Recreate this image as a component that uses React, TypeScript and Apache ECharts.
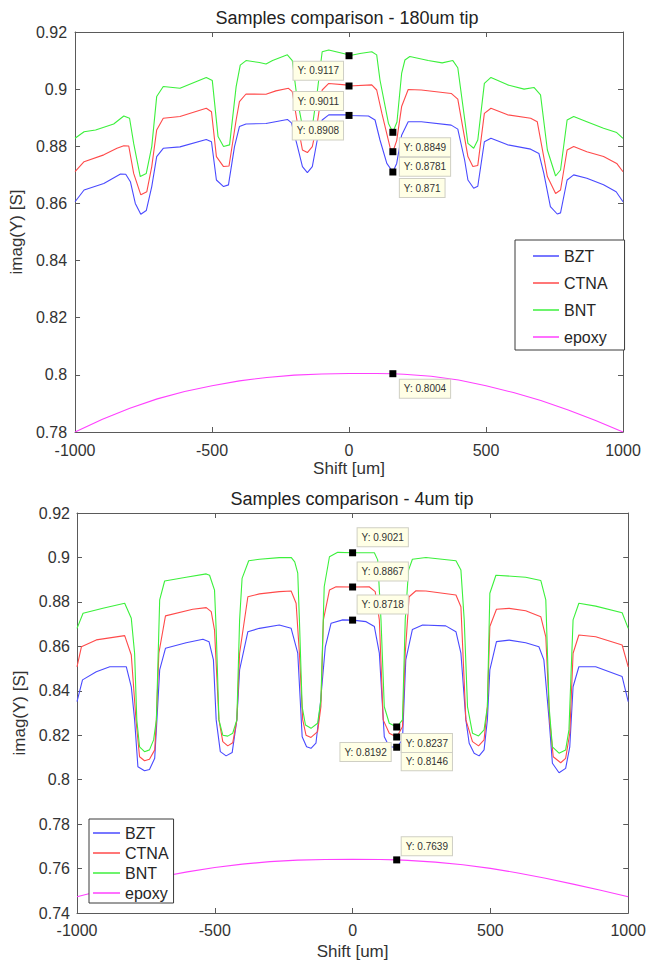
import React, { useEffect, useRef } from 'react';
import * as echarts from 'echarts';

// ---------- data ----------
const seriesNames = ['BZT', 'CTNA', 'BNT', 'epoxy'];
const xTicks = [-1000, -500, 0, 500, 1000];

// Top chart: 180um tip
const topBZT = [[-1000,0.8606],[-967,0.8647],[-895,0.867],[-834,0.8703],[-815,0.8702],[-798,0.8676],[-780,0.86],[-760,0.8562],[-740,0.8575],[-720,0.8659],[-702,0.8764],[-678,0.8793],[-617,0.8798],[-521,0.8824],[-502,0.8816],[-484,0.8682],[-458,0.8659],[-440,0.8665],[-418,0.8799],[-400,0.8869],[-376,0.8878],[-303,0.888],[-225,0.8894],[-210,0.8882],[-188,0.8799],[-170,0.8729],[-152,0.8708],[-134,0.8729],[-116,0.8822],[-98,0.8892],[-74,0.891],[-7,0.891],[0,0.8908],[71,0.8906],[95,0.8892],[113,0.8822],[138,0.874],[160,0.871],[174,0.874],[192,0.8839],[216,0.8886],[264,0.8886],[373,0.8874],[397,0.886],[422,0.8752],[434,0.8682],[455,0.8653],[470,0.866],[494,0.8816],[518,0.8828],[579,0.8805],[663,0.879],[693,0.8775],[711,0.8705],[735,0.8589],[760,0.8563],[772,0.8567],[796,0.8682],[820,0.87],[868,0.8688],[929,0.8665],[975,0.8641],[1000,0.8606]];
const topCTNA = [[-1000,0.8711],[-967,0.8746],[-895,0.877],[-847,0.8793],[-822,0.8802],[-804,0.8801],[-786,0.8705],[-760,0.863],[-738,0.8641],[-720,0.8729],[-702,0.8857],[-678,0.8898],[-617,0.8904],[-521,0.8933],[-502,0.8921],[-484,0.8764],[-458,0.8729],[-438,0.8731],[-412,0.8892],[-400,0.8956],[-376,0.8983],[-303,0.8982],[-267,0.8994],[-221,0.9003],[-207,0.8991],[-190,0.889],[-170,0.8787],[-152,0.8778],[-134,0.8799],[-116,0.888],[-98,0.8997],[-74,0.902],[-13,0.9015],[0,0.9011],[83,0.9015],[101,0.8997],[120,0.8915],[150,0.8795],[160,0.8781],[174,0.882],[192,0.8939],[216,0.8999],[264,0.8997],[373,0.8985],[397,0.8965],[434,0.8764],[452,0.8729],[470,0.8733],[494,0.8915],[518,0.8933],[579,0.891],[663,0.8898],[687,0.8886],[724,0.8694],[754,0.8635],[772,0.8647],[796,0.8787],[820,0.8799],[868,0.8781],[929,0.8764],[977,0.874],[1000,0.8711]];
const topBNT = [[-1000,0.8828],[-967,0.8851],[-925,0.8857],[-859,0.8878],[-822,0.8906],[-801,0.8898],[-786,0.881],[-762,0.8694],[-740,0.8705],[-720,0.8799],[-702,0.8974],[-678,0.9009],[-617,0.9003],[-521,0.9041],[-499,0.903],[-478,0.8834],[-458,0.8799],[-436,0.8805],[-412,0.9009],[-397,0.9084],[-376,0.91],[-327,0.9093],[-303,0.9088],[-279,0.91],[-225,0.912],[-207,0.91],[-190,0.897],[-170,0.887],[-152,0.8848],[-134,0.8868],[-116,0.899],[-98,0.9131],[-74,0.9137],[-13,0.9123],[0,0.9117],[40,0.9125],[83,0.9131],[101,0.912],[113,0.9032],[144,0.888],[160,0.8849],[175,0.8885],[192,0.9055],[204,0.9102],[222,0.9114],[289,0.91],[340,0.9092],[379,0.91],[397,0.9075],[434,0.881],[455,0.8793],[470,0.8822],[494,0.902],[518,0.9041],[579,0.9015],[639,0.9],[675,0.9006],[699,0.898],[724,0.8787],[754,0.8696],[772,0.8717],[796,0.8892],[820,0.8904],[868,0.8886],[929,0.8863],[977,0.8848],[1000,0.8828]];
const topEpoxy = [[-1000,0.78],[-900,0.7845],[-800,0.7883],[-700,0.7916],[-600,0.7942],[-500,0.7962],[-400,0.7979],[-300,0.7991],[-200,0.7999],[-100,0.8003],[0,0.8005],[100,0.8005],[160,0.8004],[200,0.8002],[300,0.7995],[400,0.7982],[500,0.7962],[600,0.7938],[700,0.791],[800,0.7877],[900,0.784],[1000,0.78]];
const topYTicks = [0.78, 0.8, 0.82, 0.84, 0.86, 0.88, 0.9, 0.92];
const topTips = {
  BZT: [[0, 0.8908], [160, 0.871]],
  CTNA: [[0, 0.9011], [160, 0.8781]],
  BNT: [[0, 0.9117], [160, 0.8849]],
  epoxy: [[160, 0.8004]],
};

// Bottom chart: 4um tip
const botBZT = [[-1000,0.8351],[-980,0.8449],[-930,0.8486],[-881,0.8508],[-821,0.8508],[-803,0.8418],[-791,0.8269],[-779,0.8058],[-755,0.804],[-737,0.8046],[-718,0.8096],[-710,0.8269],[-700,0.8494],[-679,0.8591],[-604,0.8616],[-543,0.8632],[-521,0.8621],[-505,0.8539],[-495,0.8269],[-480,0.8126],[-459,0.8107],[-437,0.8122],[-420,0.8269],[-410,0.8494],[-380,0.8666],[-338,0.8681],[-266,0.8696],[-223,0.8681],[-199,0.8569],[-183,0.8193],[-167,0.8148],[-151,0.8141],[-133,0.8164],[-118,0.8328],[-99,0.8598],[-78,0.8704],[-36,0.8719],[0,0.8718],[49,0.8711],[79,0.8689],[97,0.8569],[115,0.8193],[133,0.8148],[160,0.8146],[181,0.8179],[193,0.8539],[217,0.8676],[254,0.8696],[338,0.8692],[375,0.8666],[393,0.8569],[411,0.8269],[423,0.8164],[441,0.8119],[459,0.8107],[477,0.8134],[489,0.8269],[498,0.8494],[522,0.8621],[568,0.8628],[628,0.8616],[676,0.8598],[694,0.8539],[713,0.8269],[725,0.8074],[749,0.8031],[773,0.8051],[788,0.8148],[800,0.8418],[821,0.8508],[882,0.8508],[978,0.8464],[1000,0.8351]];
const botCTNA = [[-1000,0.8508],[-984,0.8598],[-930,0.8629],[-827,0.8648],[-803,0.8561],[-786,0.8269],[-773,0.8103],[-755,0.8085],[-737,0.8092],[-718,0.8134],[-712,0.8269],[-703,0.8569],[-679,0.8737],[-580,0.8767],[-531,0.8774],[-513,0.8756],[-501,0.8673],[-485,0.8269],[-471,0.8171],[-453,0.8152],[-435,0.8166],[-420,0.8269],[-410,0.8569],[-380,0.8823],[-338,0.8836],[-266,0.8846],[-223,0.8849],[-205,0.8794],[-193,0.8569],[-181,0.8269],[-169,0.82],[-151,0.819],[-127,0.8216],[-115,0.8328],[-106,0.8719],[-84,0.8853],[-60,0.8868],[0,0.8867],[60,0.8868],[82,0.8846],[97,0.8719],[111,0.8269],[133,0.8209],[160,0.8192],[181,0.8238],[191,0.8569],[205,0.8823],[230,0.885],[266,0.8849],[375,0.8831],[393,0.8778],[411,0.8269],[435,0.8171],[457,0.8152],[477,0.8179],[489,0.8328],[498,0.8689],[522,0.8767],[568,0.8771],[628,0.876],[683,0.8733],[701,0.8643],[715,0.8269],[728,0.8103],[755,0.8076],[773,0.8096],[788,0.8209],[800,0.8569],[821,0.8651],[882,0.8643],[978,0.8606],[1000,0.8508]];
const botBNT = [[-1000,0.8681],[-978,0.8749],[-906,0.8771],[-827,0.8794],[-803,0.8726],[-791,0.8569],[-783,0.8268],[-773,0.8148],[-755,0.8126],[-737,0.8134],[-722,0.8179],[-712,0.8269],[-700,0.8809],[-682,0.8894],[-604,0.8911],[-531,0.8926],[-519,0.892],[-501,0.8853],[-495,0.8673],[-485,0.8269],[-471,0.82],[-453,0.8196],[-435,0.8209],[-420,0.8269],[-410,0.8719],[-401,0.8906],[-377,0.8985],[-338,0.8992],[-266,0.8999],[-223,0.9],[-210,0.898],[-199,0.8929],[-193,0.8719],[-183,0.8328],[-171,0.8246],[-151,0.8231],[-127,0.8254],[-115,0.8358],[-103,0.8868],[-84,0.9003],[-54,0.9023],[0,0.9021],[79,0.9021],[91,0.8989],[103,0.8719],[115,0.8328],[133,0.8254],[160,0.8237],[181,0.8269],[191,0.8719],[203,0.8943],[217,0.8992],[266,0.9],[375,0.8985],[393,0.8943],[405,0.8719],[417,0.8328],[435,0.8209],[457,0.8197],[477,0.8224],[489,0.8328],[498,0.8839],[520,0.892],[628,0.8911],[683,0.8896],[701,0.8809],[713,0.8328],[725,0.8148],[749,0.8119],[773,0.8134],[785,0.8224],[800,0.8719],[821,0.8794],[882,0.8781],[978,0.8751],[1000,0.8681]];
const botEpoxy = [[-1000,0.7473],[-900,0.7505],[-800,0.7535],[-700,0.7562],[-600,0.7585],[-500,0.7605],[-400,0.762],[-300,0.7631],[-200,0.7638],[-100,0.7641],[0,0.7642],[100,0.7641],[160,0.7639],[200,0.7637],[300,0.7629],[400,0.7617],[500,0.7601],[600,0.758],[700,0.7556],[800,0.753],[900,0.7502],[1000,0.7473]];
const botYTicks = [0.74, 0.76, 0.78, 0.8, 0.82, 0.84, 0.86, 0.88, 0.9, 0.92];
const botTips = {
  BZT: [[0, 0.8718], [160, 0.8146]],
  CTNA: [[0, 0.8867], [160, 0.8192]],
  BNT: [[0, 0.9021], [160, 0.8237]],
  epoxy: [[160, 0.7639]],
};

// ---------- styling ----------
const FONT = "'Liberation Sans', Arial, Helvetica, sans-serif";
const COLORS: Record<string, string> = { BZT: '#4a4aff', CTNA: '#ff4a4a', BNT: '#3cf03c', epoxy: '#ff40ff' };
const AXIS_COLOR = '#5a5a5a';
const TEXT_COLOR = '#333333';

type Place = { position: number[]; align: string; verticalAlign: string };

function topPlace(name: string, x: number): Place {
  if (x === 0) return { position: [-2.5, 9.5], align: 'right', verticalAlign: 'top' };
  return { position: [10.5, name === 'BZT' ? 10.5 : 9.5], align: 'left', verticalAlign: 'top' };
}
function botPlace(name: string, x: number): Place {
  if (x === 0) return { position: [8.5, -3], align: 'left', verticalAlign: 'bottom' };
  if (name === 'CTNA') return { position: [-2.5, 9.5], align: 'right', verticalAlign: 'top' };
  if (name === 'BZT') return { position: [8.5, 8.5], align: 'left', verticalAlign: 'top' };
  if (name === 'epoxy') return { position: [8.5, -1.2], align: 'left', verticalAlign: 'bottom' };
  return { position: [8.5, 10.5], align: 'left', verticalAlign: 'top' };
}

function makeSeries(gi: number, data: Record<string, number[][]>, tips: Record<string, number[][]>, place: (n: string, x: number) => Place) {
  return seriesNames.map((name) => ({
    type: 'line',
    name,
    xAxisIndex: gi * 2,
    yAxisIndex: gi * 2,
    data: data[name],
    symbol: 'none',
    color: COLORS[name],
    lineStyle: { width: 1.1, color: COLORS[name] },
    silent: true,
    z: 2,
    markPoint: {
      symbol: 'rect',
      symbolSize: 7,
      silent: true,
      itemStyle: { color: '#000000' },
      data: tips[name].map(([x, y]) => {
        const p = place(name, x);
        return {
          coord: [x, y],
          value: y,
          label: {
            show: true,
            formatter: 'Y: ' + String(y),
            position: p.position,
            align: p.align,
            verticalAlign: p.verticalAlign,
            fontSize: 10,
            lineHeight: 12,
            fontFamily: FONT,
            color: '#333333',
            backgroundColor: '#ffffe6',
            borderColor: '#cfcfc4',
            borderWidth: 1,
            padding: [3, 4, 3, 4],
          },
        };
      }),
    },
  }));
}

function makeXAxes(gi: number, nameGap: number, labelMargin: number) {
  const common = {
    gridIndex: gi,
    type: 'value',
    min: xTicks[0],
    max: xTicks[xTicks.length - 1],
    interval: xTicks[1] - xTicks[0],
    splitLine: { show: false },
    axisLine: { show: true, onZero: false, lineStyle: { color: AXIS_COLOR, width: 1 } },
    axisTick: { show: true, inside: true, length: 5, lineStyle: { color: AXIS_COLOR } },
  };
  return [
    {
      ...common,
      position: 'bottom',
      name: 'Shift [um]',
      nameLocation: 'middle',
      nameGap,
      nameTextStyle: { fontSize: 17, color: TEXT_COLOR, fontFamily: FONT },
      axisLabel: {
        margin: labelMargin,
        fontSize: 16,
        color: TEXT_COLOR,
        fontFamily: FONT,
        formatter: (v: number) => String(v),
      },
    },
    { ...common, position: 'top', axisLabel: { show: false } },
  ];
}

function makeYAxes(gi: number, ticks: number[], nameGap: number, labelMargin: number) {
  const common = {
    gridIndex: gi,
    type: 'value',
    min: ticks[0],
    max: ticks[ticks.length - 1],
    interval: 0.02,
    splitLine: { show: false },
    axisLine: { show: true, onZero: false, lineStyle: { color: AXIS_COLOR, width: 1 } },
    axisTick: { show: true, inside: true, length: 5, lineStyle: { color: AXIS_COLOR } },
  };
  return [
    {
      ...common,
      position: 'left',
      name: 'imag(Y) [S]',
      nameLocation: 'middle',
      nameGap,
      nameTextStyle: { fontSize: 17, color: TEXT_COLOR, fontFamily: FONT },
      axisLabel: {
        margin: labelMargin,
        fontSize: 16,
        color: TEXT_COLOR,
        fontFamily: FONT,
        formatter: (v: number) => String(Math.round(v * 100) / 100),
      },
    },
    { ...common, position: 'right', axisLabel: { show: false } },
  ];
}

const legendCommon = {
  data: seriesNames,
  orient: 'vertical',
  icon: 'rect',
  itemHeight: 1.5,
  borderColor: '#3a3a3a',
  borderWidth: 1,
  backgroundColor: '#ffffff',
  selectedMode: false,
  textStyle: { fontSize: 16, color: '#262626', fontFamily: FONT },
};

export default function App() {
  const ref = useRef<HTMLDivElement>(null);

  useEffect(() => {
    if (!ref.current) return;
    const chart = echarts.init(ref.current, undefined, { renderer: 'svg' });
    const option = {
      animation: false,
      backgroundColor: '#ffffff',
      grid: [
        { left: 71, top: 32, width: 552, height: 400, containLabel: false },
        { left: 77, top: 513, width: 552, height: 400, containLabel: false },
      ],
      xAxis: [...makeXAxes(0, 28, 10), ...makeXAxes(1, 30, 9)],
      yAxis: [...makeYAxes(0, topYTicks, 48, 8), ...makeYAxes(1, botYTicks, 41, 7)],
      legend: [
        {
          ...legendCommon,
          left: 515,
          top: 240,
          padding: [8, 17, 5, 18],
          itemGap: 11,
          itemWidth: 26,
        },
        {
          ...legendCommon,
          left: 89,
          top: 819,
          padding: [6, 5, 2, 4],
          itemGap: 4,
          itemWidth: 27,
        },
      ],
      graphic: [
        {
          type: 'text',
          x: 347,
          y: 18,
          style: {
            text: 'Samples comparison - 180um tip',
            fontSize: 18,
            fontFamily: FONT,
            fill: '#222222',
            align: 'center',
            verticalAlign: 'middle',
          },
        },
        {
          type: 'text',
          x: 352,
          y: 499,
          style: {
            text: 'Samples comparison - 4um tip',
            fontSize: 18,
            fontFamily: FONT,
            fill: '#222222',
            align: 'center',
            verticalAlign: 'middle',
          },
        },
      ],
      series: [
        ...makeSeries(0, { BZT: topBZT, CTNA: topCTNA, BNT: topBNT, epoxy: topEpoxy }, topTips, topPlace),
        ...makeSeries(1, { BZT: botBZT, CTNA: botCTNA, BNT: botBNT, epoxy: botEpoxy }, botTips, botPlace),
      ],
    };
    chart.setOption(option as any);
    return () => chart.dispose();
  }, []);

  return <div ref={ref} style={{ position: 'absolute', left: 0, top: 0, width: 649, height: 961 }} />;
}
